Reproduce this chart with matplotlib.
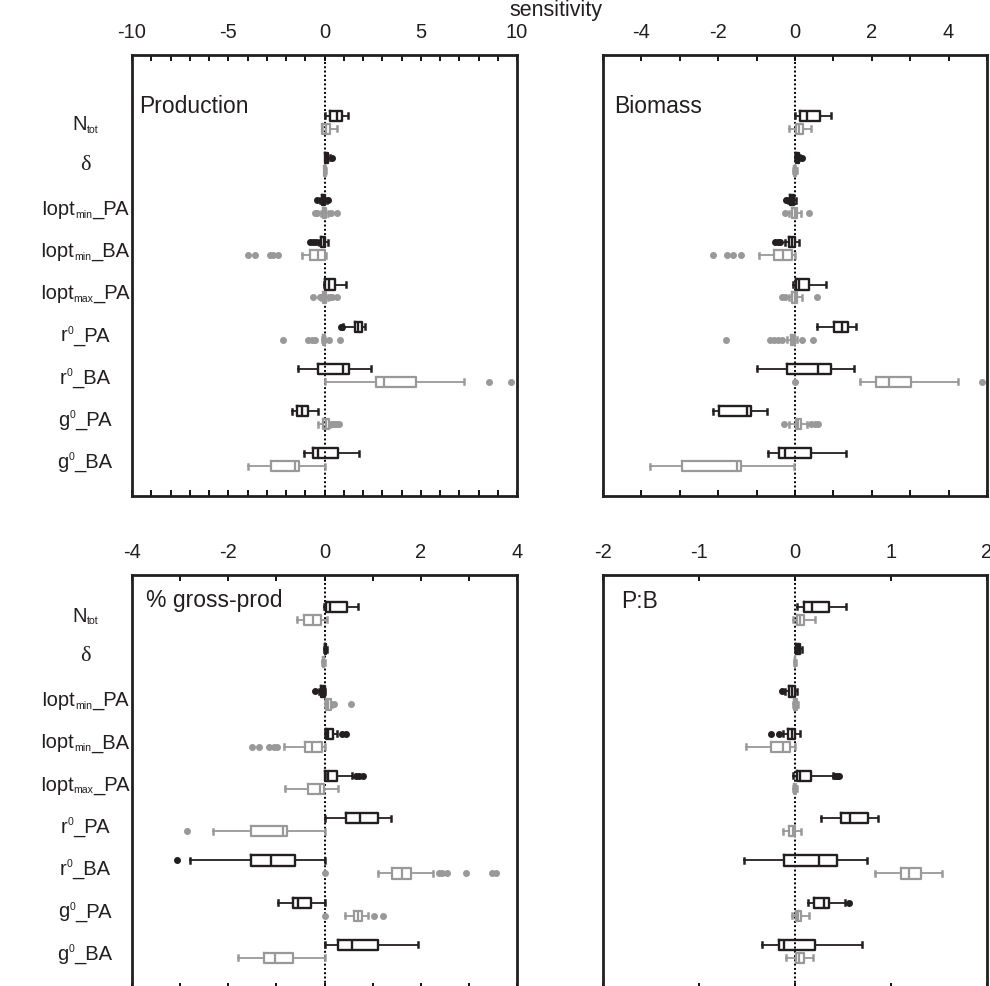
import matplotlib
matplotlib.use('Agg')
import matplotlib.pyplot as plt
from matplotlib.transforms import blended_transform_factory, offset_copy
import matplotlib.ticker as mticker

plt.rcParams['font.family'] = ['Liberation Sans', 'DejaVu Sans']

# ---------------- data ----------------
# category labels as (text, kind) segments: n = normal, sub = subscript, sup = superscript
categories = [
    [('N', 'n'), ('tot', 'sub')],
    [('δ', 'greek')],
    [('Iopt', 'n'), ('min', 'sub'), ('_PA', 'n')],
    [('Iopt', 'n'), ('min', 'sub'), ('_BA', 'n')],
    [('Iopt', 'n'), ('max', 'sub'), ('_PA', 'n')],
    [('r', 'n'), ('0', 'sup'), ('_PA', 'n')],
    [('r', 'n'), ('0', 'sup'), ('_BA', 'n')],
    [('g', 'n'), ('0', 'sup'), ('_PA', 'n')],
    [('g', 'n'), ('0', 'sup'), ('_BA', 'n')],
]
panel_titles = ['Production', 'Biomass', '% gross-prod', 'P:B']

# [whisker low, q1, median, q3, whisker high] per category
prod_black = [[0.03, 0.29, 0.63, 0.93, 1.24], [0.0, 0.05, 0.12, 0.2, 0.3],
              [-0.25, -0.15, -0.05, 0.03, 0.15], [-0.3, -0.2, -0.05, 0.05, 0.2],
              [-0.05, 0.03, 0.25, 0.55, 1.12], [0.98, 1.59, 1.76, 1.97, 2.1],
              [-1.36, -0.32, 0.94, 1.29, 2.4], [-1.71, -1.45, -1.19, -0.87, -0.36],
              [-1.05, -0.58, -0.36, 0.72, 1.79]]
prod_black_out = [[], [0.4], [-0.37, 0.2], [-0.75, -0.6, -0.45], [], [0.84, 0.93], [], [], []]
prod_gray = [[-0.15, -0.12, 0.1, 0.29, 0.63], [-0.05, -0.02, 0.02, 0.06, 0.1],
             [-0.2, -0.1, 0.0, 0.1, 0.2], [-1.19, -0.75, -0.32, 0.03, 0.07],
             [-0.2, -0.1, 0.0, 0.1, 0.2], [-0.15, -0.1, -0.05, 0.0, 0.05],
             [0.0, 2.68, 3.09, 4.74, 7.26], [-0.32, -0.06, 0.1, 0.25, 0.3],
             [-4.0, -2.78, -1.53, -1.33, 0.03]]
prod_gray_out = [[], [], [-0.5, -0.4, 0.35, 0.63], [-3.96, -3.61, -2.83, -2.66, -2.4],
                 [-0.6, -0.25, 0.3, 0.4, 0.67], [-2.14, -0.84, -0.67, -0.5, 0.25, 0.8],
                 [8.55, 9.67], [0.37, 0.5, 0.63, 0.77], []]

bio_black = [[0.0, 0.13, 0.32, 0.65, 0.93], [0.0, 0.02, 0.06, 0.1, 0.14],
             [-0.18, -0.12, -0.08, -0.02, 0.03], [-0.26, -0.15, -0.07, 0.0, 0.1],
             [-0.06, 0.03, 0.11, 0.36, 0.82], [0.56, 1.02, 1.22, 1.39, 1.59],
             [-1.0, -0.22, 0.61, 0.94, 1.54], [-2.14, -1.97, -1.26, -1.15, -0.74],
             [-0.71, -0.41, -0.25, 0.42, 1.32]]
bio_black_out = [[], [0.17], [-0.23], [-0.52, -0.45, -0.38], [], [], [], [], []]
bio_gray = [[-0.16, 0.03, 0.11, 0.22, 0.42], [-0.04, -0.02, 0.0, 0.03, 0.06],
            [-0.15, -0.08, 0.0, 0.06, 0.15], [-0.95, -0.54, -0.3, -0.09, 0.0],
            [-0.15, -0.08, 0.0, 0.06, 0.18], [-0.2, -0.1, -0.05, 0.0, 0.05],
            [1.69, 2.11, 2.44, 3.02, 4.25], [-0.15, 0.03, 0.07, 0.15, 0.3],
            [-3.78, -2.93, -1.52, -1.41, -0.02]]
bio_gray_out = [[], [], [-0.26, 0.36], [-2.14, -1.78, -1.61, -1.41], [-0.35, -0.25, 0.58],
                [-1.8, -0.65, -0.55, -0.45, -0.35, 0.17, 0.48], [0.0, 4.86],
                [-0.28, 0.41, 0.52, 0.61], []]

gp_black = [[-0.02, 0.03, 0.12, 0.46, 0.69], [-0.02, 0.0, 0.02, 0.03, 0.05],
            [-0.12, -0.08, -0.04, 0.0, 0.0], [0.0, 0.03, 0.08, 0.17, 0.27],
            [0.0, 0.01, 0.08, 0.27, 0.58], [0.0, 0.44, 0.74, 1.11, 1.39],
            [-2.8, -1.52, -1.11, -0.62, 0.0], [-0.96, -0.66, -0.56, -0.28, 0.0],
            [0.0, 0.28, 0.57, 1.11, 1.95]]
gp_black_out = [[], [], [-0.19], [0.37, 0.44], [0.65, 0.72, 0.8], [], [-3.07], [], []]
gp_gray = [[-0.58, -0.42, -0.24, -0.08, 0.06], [-0.06, -0.04, -0.03, -0.01, 0.0],
           [0.0, 0.03, 0.07, 0.13, 0.15], [-0.84, -0.41, -0.25, -0.06, 0.0],
           [-0.82, -0.35, -0.09, -0.02, 0.28], [-2.31, -1.52, -0.86, -0.78, 0.0],
           [1.11, 1.41, 1.6, 1.79, 2.26], [0.42, 0.62, 0.7, 0.78, 0.91],
           [-1.79, -1.25, -1.03, -0.66, 0.0]]
gp_gray_out = [[], [], [0.2, 0.55], [-1.5, -1.36, -1.15, -1.05, -0.98], [], [-2.85],
               [0.0, 2.38, 2.45, 2.54, 2.95, 3.48, 3.57], [0.0, 1.02, 1.22], []]

pb_black = [[0.02, 0.09, 0.18, 0.35, 0.53], [0.0, 0.01, 0.03, 0.05, 0.07],
            [-0.1, -0.06, -0.03, 0.0, 0.02], [-0.12, -0.07, -0.03, 0.0, 0.05],
            [-0.02, 0.02, 0.05, 0.17, 0.4], [0.27, 0.48, 0.57, 0.76, 0.86],
            [-0.53, -0.11, 0.25, 0.44, 0.75], [0.14, 0.2, 0.3, 0.35, 0.52],
            [-0.34, -0.17, -0.11, 0.21, 0.7]]
pb_black_out = [[], [], [-0.14], [-0.25, -0.17], [0.42, 0.44, 0.46], [], [], [0.56], []]
pb_gray = [[-0.02, 0.02, 0.05, 0.09, 0.21], [-0.01, 0.0, 0.0, 0.0, 0.01],
           [-0.02, -0.01, 0.0, 0.02, 0.03], [-0.51, -0.25, -0.13, -0.05, 0.0],
           [-0.02, -0.01, 0.0, 0.01, 0.02], [-0.12, -0.06, -0.02, 0.0, 0.06],
           [0.83, 1.1, 1.19, 1.31, 1.53], [-0.03, 0.01, 0.03, 0.06, 0.15],
           [-0.09, 0.01, 0.04, 0.09, 0.19]]
pb_gray_out = [[], [], [], [], [], [], [], [], []]

xlims = [(-10, 10), (-5, 5), (-4, 4), (-2, 2)]
major_ticks = [[-10, -5, 0, 5, 10], [-4, -2, 0, 2, 4], [-4, -2, 0, 2, 4], [-2, -1, 0, 1, 2]]
minor_step = [1, 1, 1, None]

# ---------------- layout ----------------
W, H = 990, 987
fig = plt.figure(figsize=(W / 100, H / 100), dpi=100)
renderer = fig.canvas.get_renderer()

def px_axes(x0, x1, y0, y1):
    return fig.add_axes([x0 / W, (H - y1) / H, (x1 - x0) / W, (y1 - y0) / H])

axes = [px_axes(132, 517, 56, 497), px_axes(603, 987, 56, 497),
        px_axes(132, 517, 576, 990), px_axes(603, 987, 576, 990)]
ylims = [(9.86, -0.595), (9.86, -0.595), (9.889, 0.09), (9.889, 0.09)]

BLACK = '#231f20'
GRAY = '#999999'

def draw(ax, stats, outs, offset, color, lw):
    st = [dict(whislo=s[0], q1=s[1], med=s[2], q3=s[3], whishi=s[4], fliers=o)
          for s, o in zip(stats, outs)]
    pos = [i + 1 + offset for i in range(len(st))]
    ax.bxp(st, positions=pos, orientation='horizontal', widths=0.24, capwidths=0.12,
           showfliers=True, manage_ticks=False,
           boxprops=dict(color=color, lw=lw), medianprops=dict(color=color, lw=lw),
           whiskerprops=dict(color=color, lw=1.3), capprops=dict(color=color, lw=1.8),
           flierprops=dict(marker='o', mfc=color, mec=color, ms=4, lw=0), zorder=3)

def seg_label(ax, y, segs, size=14.5, xc=85):
    tr = blended_transform_factory(fig.transFigure, ax.transData)
    objs = []
    for txt, kind in segs:
        if kind == 'greek':
            ax.text(xc / W, y - 0.17, txt, transform=tr, ha='center', va='center',
                    fontsize=16, family=['Liberation Serif', 'DejaVu Serif'], color=BLACK)
            return
        fs = size if kind == 'n' else size * 0.52
        dy = {'n': 0, 'sub': -2.0, 'sup': 5.5}[kind]
        t = ax.text(0, y, txt, transform=offset_copy(tr, fig=fig, x=0, y=dy, units='points'),
                    fontsize=fs, ha='left', va='baseline', color=BLACK)
        w = t.get_window_extent(renderer).width
        objs.append((t, w))
    total = sum(w for _, w in objs)
    cur = xc - total / 2
    for t, w in objs:
        t.set_x(cur / W)
        cur += w

data = [(prod_black, prod_black_out, prod_gray, prod_gray_out),
        (bio_black, bio_black_out, bio_gray, bio_gray_out),
        (gp_black, gp_black_out, gp_gray, gp_gray_out),
        (pb_black, pb_black_out, pb_gray, pb_gray_out)]
title_pos = [(0.018, 0.8707), (0.029, 0.8707), (0.036, 0.925), (0.046, 0.923)]

for k, ax in enumerate(axes):
    b, bo, g, go = data[k]
    ax.axvline(0, color='black', ls=(0, (1, 1.2)), lw=1.4, zorder=1)
    draw(ax, b, bo, -0.154, BLACK, 1.7)
    draw(ax, g, go, 0.154, GRAY, 1.6)
    ax.set_xlim(*xlims[k])
    ax.set_ylim(*ylims[k])
    ax.set_yticks([])
    ax.xaxis.set_major_locator(mticker.FixedLocator(major_ticks[k]))
    ax.xaxis.set_major_formatter(mticker.FuncFormatter(lambda v, p: f'{int(v)}'))
    if minor_step[k]:
        ax.xaxis.set_minor_locator(mticker.MultipleLocator(minor_step[k]))
    ax.tick_params(axis='x', which='both', direction='in', top=True, bottom=True,
                   labeltop=True, labelbottom=False, length=4, width=1.3,
                   labelsize=14.5, pad=10, labelcolor=BLACK)
    for sp in ax.spines.values():
        sp.set_linewidth(2.0)
        sp.set_color(BLACK)
    ax.text(title_pos[k][0], title_pos[k][1], panel_titles[k], transform=ax.transAxes,
            fontsize=16.5, ha='left', va='baseline', color=BLACK)
    if k in (0, 2):
        for i, segs in enumerate(categories):
            seg_label(ax, i + 1 + 0.17, segs)

fig.text(556 / W, 1 - 0 / H, 'sensitivity', ha='center', va='top', fontsize=15.5,
         color=BLACK)

fig.savefig('out.png', dpi=100)
